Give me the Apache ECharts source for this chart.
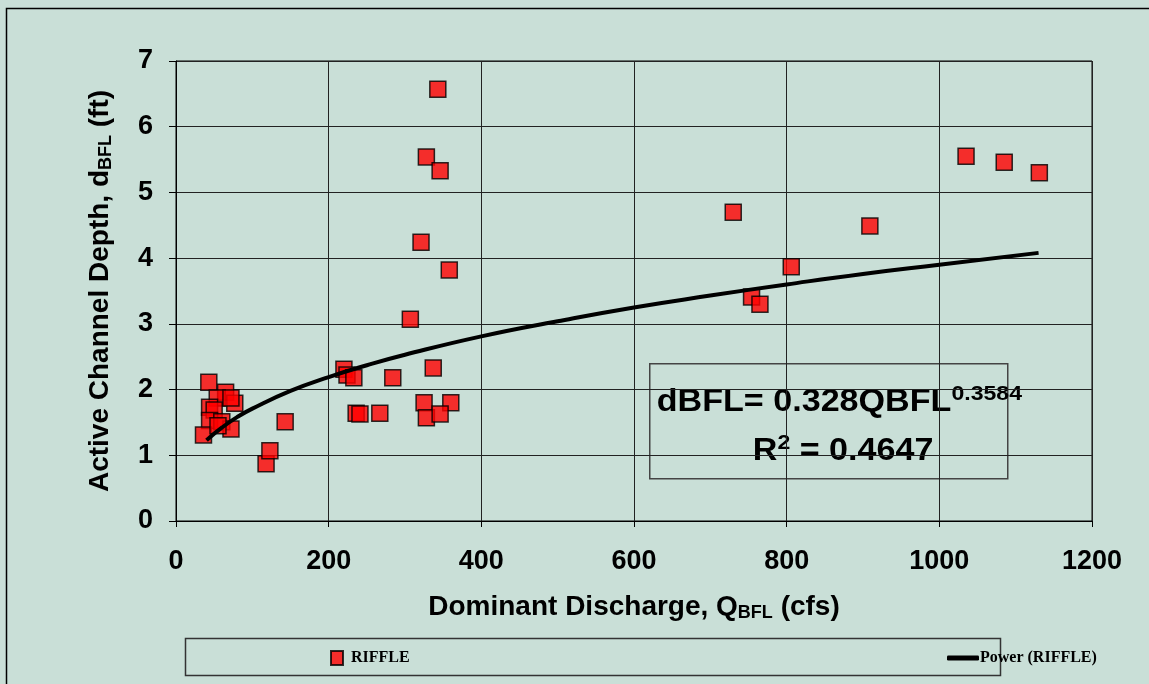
<!DOCTYPE html>
<html>
<head>
<meta charset="utf-8">
<title>Active Channel Depth vs Dominant Discharge</title>
<script src="https://cdn.jsdelivr.net/npm/echarts@6/dist/echarts.min.js"></script>
<style>
  html, body { margin: 0; padding: 0; background: #c9dfd7; }
  #chart { width: 1149px; height: 684px; }
</style>
</head>
<body>
<div id="chart"></div>
<script>
// riffle measurements: discharge Q (cfs) and depth d (ft)
const riffleQ = [343, 328, 346, 321, 358, 307, 220, 224, 233, 284, 337, 236, 241, 267, 325, 360, 328, 346,
  730, 754, 765, 909, 806, 1035, 1085, 1131, 118, 123, 143,
  43, 65, 54, 77, 72, 44, 50, 44, 60, 72, 36, 55];
const riffleD = [6.57, 5.54, 5.33, 4.24, 3.82, 3.07, 2.31, 2.22, 2.18, 2.18, 2.33, 1.64, 1.63, 1.64, 1.80, 1.80, 1.57, 1.63,
  4.70, 3.41, 3.30, 4.49, 3.87, 5.55, 5.46, 5.30, 0.87, 1.07, 1.51,
  2.11, 1.96, 1.87, 1.79, 1.87, 1.73, 1.69, 1.53, 1.51, 1.40, 1.31, 1.45];

// power trendline
const trendQ = [40, 60, 80, 100, 150, 200, 250, 300, 400, 500, 600, 700, 800, 900, 1000, 1130];
const trendD = [1.23, 1.42, 1.58, 1.71, 1.98, 2.19, 2.37, 2.53, 2.81, 3.04, 3.25, 3.43, 3.60, 3.76, 3.90, 4.08];

const xTicks = [0, 200, 400, 600, 800, 1000, 1200];
const yTicks = [0, 1, 2, 3, 4, 5, 6, 7];

const bg = '#c9dfd7';
const sans = 'Liberation Sans, Arial, sans-serif';
const serif = 'Liberation Serif, Times New Roman, serif';

let chart = echarts.init(document.getElementById('chart'));

// bold title text with a subscript part
const titleRich = {
  a: { fontFamily: sans, fontWeight: 'bold', fontSize: 28, color: '#000' },
  s: { fontFamily: sans, fontWeight: 'bold', fontSize: 18, color: '#000', padding: [12, 0, 0, 0] }
};

let option = {
  backgroundColor: bg,
  animation: false,
  grid: { left: 176, right: 57, top: 61, bottom: 163, show: true, borderColor: '#000', borderWidth: 1 },
  xAxis: {
    type: 'value', min: xTicks[0], max: xTicks[xTicks.length - 1], interval: 200,
    axisLine: { show: true, lineStyle: { color: '#000', width: 1 } },
    axisTick: { show: true, length: 6, lineStyle: { color: '#000' } },
    axisLabel: { margin: 27, color: '#000', fontFamily: sans, fontWeight: 'bold', fontSize: 27, formatter: v => String(v) },
    splitLine: { show: true, lineStyle: { color: '#222', width: 1 } },
    name: '{a|Dominant Discharge, Q}{s|BFL}{a| (cfs)}',
    nameLocation: 'middle', nameGap: 71,
    nameTextStyle: { rich: titleRich }
  },
  yAxis: {
    type: 'value', min: yTicks[0], max: yTicks[yTicks.length - 1], interval: 1,
    axisLine: { show: true, lineStyle: { color: '#000', width: 1 } },
    axisTick: { show: true, length: 7, lineStyle: { color: '#000' } },
    axisLabel: { margin: 23, color: '#000', fontFamily: sans, fontWeight: 'bold', fontSize: 27 },
    splitLine: { show: true, lineStyle: { color: '#222', width: 1 } },
    name: '{a|Active Channel Depth, d}{s|BFL}{a| (ft)}',
    nameLocation: 'middle', nameGap: 61, nameRotate: 90,
    nameTextStyle: { rich: titleRich }
  },
  legend: [
    {
      data: ['RIFFLE'], left: 325, top: 645, itemWidth: 12, itemHeight: 14, itemGap: 0,
      textStyle: { fontFamily: serif, fontWeight: 'bold', fontSize: 16, color: '#000', padding: [0, 0, 0, 3] }
    },
    {
      data: [{ name: 'Power (RIFFLE)', icon: 'roundRect' }], left: 942, top: 645, itemWidth: 32, itemHeight: 5, itemGap: 0,
      textStyle: { fontFamily: serif, fontWeight: 'bold', fontSize: 16, color: '#000', padding: [0, 0, 0, -4] }
    }
  ],
  graphic: [
    // outer frame
    { type: 'rect', left: 4, top: 6, z: -1, shape: { width: 1200, height: 720 }, style: { fill: null, stroke: '#000', lineWidth: 1.5 } },
    // legend box
    { type: 'rect', left: 183, top: 636, shape: { width: 815, height: 37 }, style: { fill: null, stroke: '#333', lineWidth: 1.5 } },
    // regression equation box
    {
      type: 'group', left: 649, top: 363, z: 100,
      children: [
        { type: 'rect', shape: { width: 358, height: 115 }, style: { fill: bg, stroke: '#444', lineWidth: 1.5 } },
        {
          type: 'text', x: 7, y: 20, scaleX: 1.1,
          style: {
            text: '{a|dBFL= 0.328QBFL}{p|0.3584}',
            rich: {
              a: { fontFamily: sans, fontWeight: 'bold', fontSize: 31, fill: '#000' },
              p: { fontFamily: sans, fontWeight: 'bold', fontSize: 21, fill: '#000', padding: [0, 0, 16, 0] }
            }
          }
        },
        {
          type: 'text', x: 103, y: 69, scaleX: 1.1,
          style: {
            text: '{a|R}{p|2}{a| = 0.4647}',
            rich: {
              a: { fontFamily: sans, fontWeight: 'bold', fontSize: 31, fill: '#000' },
              p: { fontFamily: sans, fontWeight: 'bold', fontSize: 21, fill: '#000', padding: [0, 0, 16, 0] }
            }
          }
        }
      ]
    }
  ],
  series: [
    {
      name: 'RIFFLE',
      type: 'scatter',
      symbol: 'rect',
      symbolSize: 16,
      itemStyle: { color: '#ff0000', borderColor: '#000', borderWidth: 1.5 },
      data: riffleQ.map((q, i) => [q, riffleD[i]]),
      z: 3
    },
    {
      name: 'Power (RIFFLE)',
      type: 'line',
      showSymbol: false,
      smooth: true,
      lineStyle: { color: '#000', width: 4 },
      itemStyle: { color: '#000' },
      data: trendQ.map((q, i) => [q, trendD[i]]),
      z: 4
    }
  ]
};

chart.setOption(option);
</script>
</body>
</html>
